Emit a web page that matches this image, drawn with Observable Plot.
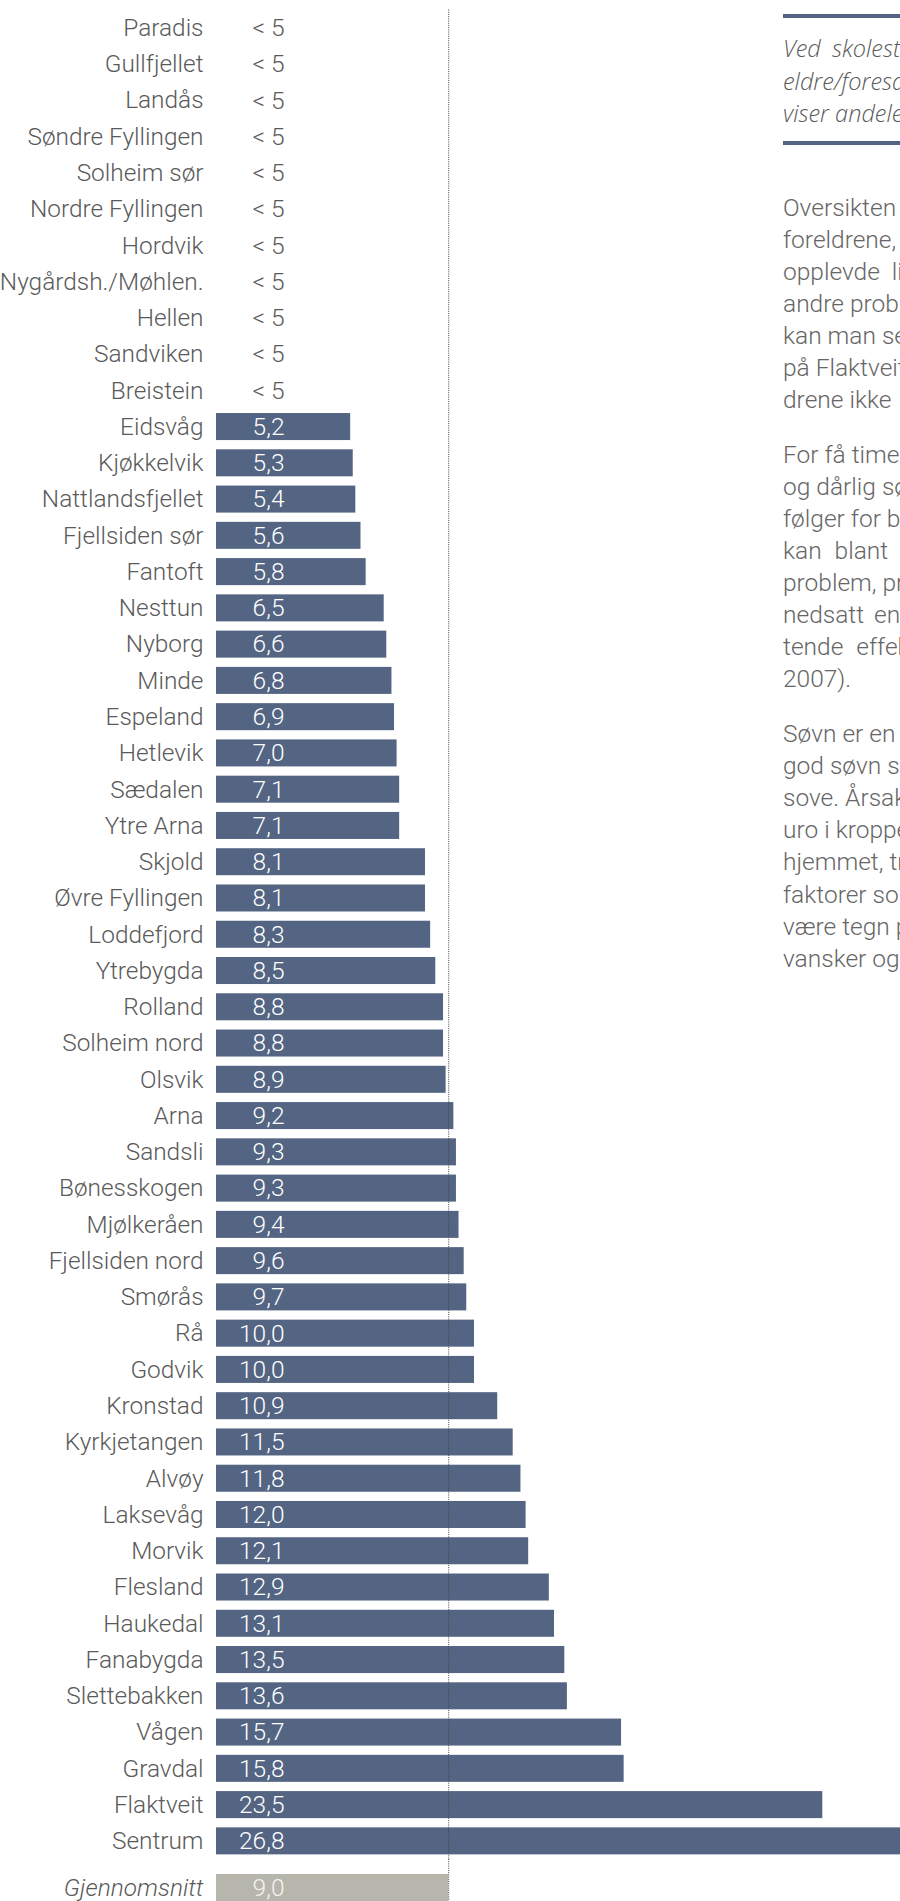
<!DOCTYPE html>
<html>
<head>
<meta charset="utf-8">
<script src="https://cdn.jsdelivr.net/npm/d3@7"></script>
<script src="https://cdn.jsdelivr.net/npm/@observablehq/plot@0.6"></script>
<style>
  html, body { margin: 0; padding: 0; width: 900px; height: 1901px; overflow: hidden; background: #fff; }
  #chart svg { display: block; }
  #panel { position: absolute; left: 783px; top: 0; width: 420px; font-family: Roboto, sans-serif; font-weight: 300; color: #666; }
  .rule { position: absolute; left: 0; width: 420px; height: 4px; background: #536582; }
  .line { position: absolute; left: 0; white-space: pre; line-height: 32px; height: 32px; }
  .hdr { font-family: "Open Sans", sans-serif; font-style: italic; font-weight: 300; font-size: 23.5px; color: #5a5a5a; }
  .body { font-size: 24.5px; }
</style>
</head>
<body>
<div id="chart"></div>
<div id="panel"></div>
<script>
// ---- data ----
const names = [
  "Paradis", "Gullfjellet", "Landås", "Søndre Fyllingen", "Solheim sør", "Nordre Fyllingen",
  "Hordvik", "Nygårdsh./Møhlen.", "Hellen", "Sandviken", "Breistein",
  "Eidsvåg", "Kjøkkelvik", "Nattlandsfjellet", "Fjellsiden sør", "Fantoft", "Nesttun",
  "Nyborg", "Minde", "Espeland", "Hetlevik", "Sædalen", "Ytre Arna", "Skjold",
  "Øvre Fyllingen", "Loddefjord", "Ytrebygda", "Rolland", "Solheim nord", "Olsvik",
  "Arna", "Sandsli", "Bønesskogen", "Mjølkeråen", "Fjellsiden nord", "Smørås", "Rå",
  "Godvik", "Kronstad", "Kyrkjetangen", "Alvøy", "Laksevåg", "Morvik", "Flesland",
  "Haukedal", "Fanabygda", "Slettebakken", "Vågen", "Gravdal", "Flaktveit", "Sentrum"
];
const values = [
  null, null, null, null, null, null, null, null, null, null, null,
  5.2, 5.3, 5.4, 5.6, 5.8, 6.5, 6.6, 6.8, 6.9, 7.0, 7.1, 7.1, 8.1, 8.1, 8.3, 8.5,
  8.8, 8.8, 8.9, 9.2, 9.3, 9.3, 9.4, 9.6, 9.7, 10.0, 10.0, 10.9, 11.5, 11.8, 12.0,
  12.1, 12.9, 13.1, 13.5, 13.6, 15.7, 15.8, 23.5, 26.8
];
const hiddenLabel = "< 5";
const avgName = "Gjennomsnitt";
const avgValue = 9.0;

const headerLines = ["Ved skolestart", "eldre/foresatte", "viser andelen"];
const para1 = ["Oversikten viser", "foreldrene, som", "opplevde litt", "andre problemer", "kan man se", "på Flaktveit", "drene ikke"];
const para2 = ["For få timer", "og dårlig søvn", "følger for barn", "kan blant annet", "problem, praktisk", "nedsatt energi", "tende effekter", "2007)."];
const para3 = ["Søvn er en", "god søvn som", "sove. Årsaken", "uro i kroppen", "hjemmet, tretthet", "faktorer som", "være tegn på", "vansker og"];

// ---- build ----
const rows = names.map((name, i) => ({name, value: values[i]}));
const fmt = v => d3.format(".1f")(v).replace(".", ",");
const barColor = "#536582";
const labelColor = "#5a5a5a";
const pxPerUnit = 25.8;
const x0 = 216;
const xScale = {domain: [0, 30], range: [x0, x0 + pxPerUnit * 30], axis: null};
const nameFont = {fontFamily: "Roboto, sans-serif", fontWeight: 300, fontSize: 24.4};
const valueFont = {fontFamily: "Roboto, sans-serif", fontWeight: 300, fontSize: 24.5};

const main = Plot.plot({
  width: 900, height: 1859,
  marginLeft: x0, marginRight: 0, marginTop: 9.5, marginBottom: 0,
  x: xScale,
  y: {domain: names, paddingInner: 0.255, paddingOuter: 0.1275, round: false, axis: null},
  style: {background: "transparent", overflow: "hidden"},
  marks: [
    Plot.barX(rows.filter(d => d.value != null), {x: "value", y: "name", fill: barColor}),
    Plot.ruleX([avgValue], {stroke: "#444", strokeWidth: 1, strokeDasharray: "1,1.2"}),
    Plot.text(rows, {y: "name", text: "name", frameAnchor: "left", dx: -13, textAnchor: "end", fill: labelColor, ...nameFont}),
    Plot.text(rows.filter(d => d.value == null), {y: "name", text: () => hiddenLabel, frameAnchor: "left", dx: 68, textAnchor: "end", fill: labelColor, ...valueFont}),
    Plot.text(rows.filter(d => d.value != null), {y: "name", text: d => fmt(d.value), frameAnchor: "left", dx: 68, textAnchor: "end", fill: "#ffffff", ...valueFont})
  ]
});

const avgRows = [{name: avgName, value: avgValue}];
const avgPlot = Plot.plot({
  width: 900, height: 42,
  marginLeft: x0, marginRight: 0, marginTop: 0, marginBottom: 0,
  x: xScale,
  y: {domain: [avgName], range: [15, 42], padding: 0, round: false, axis: null},
  style: {background: "transparent", overflow: "hidden"},
  marks: [
    Plot.barX(avgRows, {x: "value", y: "name", fill: "#b6b6ac"}),
    Plot.ruleX([avgValue], {stroke: "#444", strokeWidth: 1, strokeDasharray: "1,1.2"}),
    Plot.text(avgRows, {y: "name", text: "name", frameAnchor: "left", dx: -13, textAnchor: "end", fill: labelColor, fontStyle: "italic", ...nameFont}),
    Plot.text(avgRows, {y: "name", text: d => fmt(d.value), frameAnchor: "left", dx: 68, textAnchor: "end", fill: "#f4f4f0", ...valueFont})
  ]
});

const chartDiv = document.getElementById("chart");
chartDiv.appendChild(main);
chartDiv.appendChild(avgPlot);

// ---- right text panel ----
const panel = document.getElementById("panel");
function addRule(top) {
  const r = document.createElement("div");
  r.className = "rule"; r.style.top = top + "px";
  panel.appendChild(r);
}
function addLines(lines, firstCenter, pitch, cls, spacing) {
  lines.forEach((t, i) => {
    const d = document.createElement("div");
    d.className = "line " + cls;
    d.textContent = t;
    d.style.top = (firstCenter + i * pitch - 16) + "px";
    if (spacing && spacing[i]) d.style.wordSpacing = spacing[i] + "px";
    panel.appendChild(d);
  });
}
addRule(14);
addLines(headerLines, 48, 32.5, "hdr", {0: 5});
addRule(141);
addLines(para1, 208, 32, "body", {2: 6});
addLines(para2, 455, 32, "body", {3: 7, 5: 4, 6: 7});
addLines(para3, 734, 32.1, "body", {});
</script>
</body>
</html>
